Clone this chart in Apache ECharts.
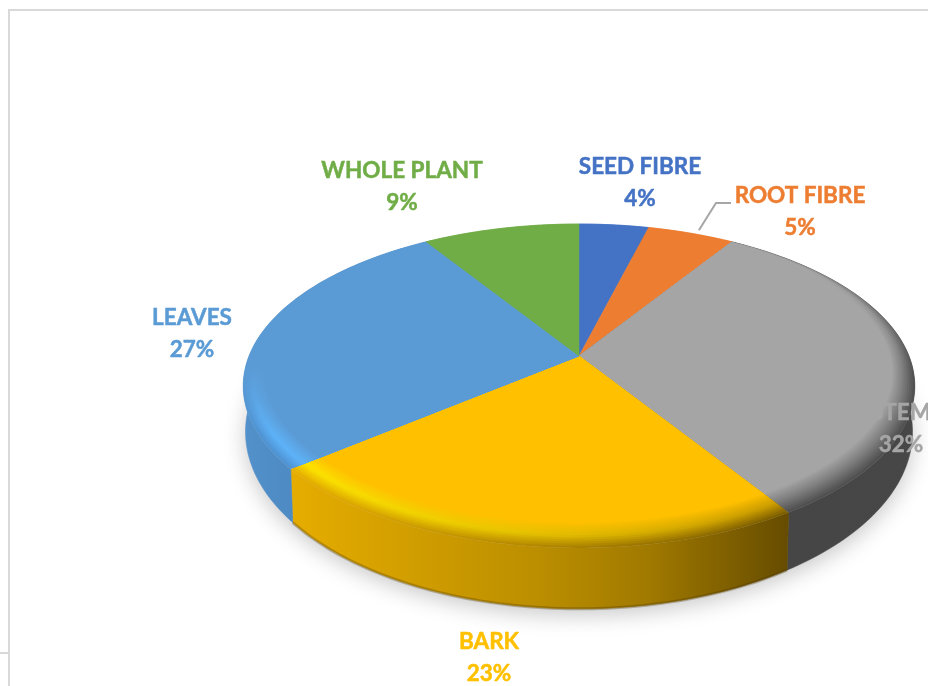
<!DOCTYPE html>
<html>
<head>
<meta charset="utf-8">
<style>html,body{margin:0;padding:0;background:#fff}#chart{width:928px;height:686px}</style>
<script src="https://cdn.jsdelivr.net/npm/echarts@6/dist/echarts.min.js"></script>
</head>
<body>
<div id="chart"></div>
<script>
// Fibre source shares, clockwise from twelve o'clock
const categories = ['SEED FIBRE', 'ROOT FIBRE', 'STEM', 'BARK', 'LEAVES', 'WHOLE PLANT'];
const shares = [4, 5, 32, 23, 27, 9];
const colors = ['#4472C4', '#ED7D31', '#A5A5A5', '#FFC000', '#5B9BD5', '#70AD47'];

// Label anchors, in page pixels
const labelPos = [[640, 183], [800, 212], [901, 429], [489, 658], [192, 334], [402, 187]];

// Perspective disc: rim of the top face and rim of the base
const topRim = { cx: 579, cy: 356, a: 330, b: 156.4, k: 0.185 };
const baseRim = { cx: 579, cy: 399, a: 327.7, b: 171, k: 0.185 };
const bevelDepth = 0.055;
const bevelSteps = 12;

// Outer-to-inner bevel ramps: [t, colour at gradient start, colour at gradient end].
// Bark is lit along x; leaves and stem shade along y, between the span fractions of their rim.
const bevelRamps = {
  3: { axis: 'x', stops: [[0, '#e8b000', '#7c5e00'], [0.45, '#ffe600', '#c89800'], [1, '#FFC000', '#FFC000']] },
  4: { axis: 'y', span: [0.55, 0.85], stops: [[0, '#5B9BD5', '#4f93d2'], [0.4, '#5B9BD5', '#5db2f8'], [1, '#5B9BD5', '#5B9BD5']] },
  2: { axis: 'y', span: [0.1, 0.5], stops: [[0, '#8a8a8a', '#505050'], [0.5, '#A5A5A5', '#7e7e7e'], [1, '#A5A5A5', '#A5A5A5']] }
};
// Wall shading for the slices facing the viewer
const wallStops = {
  2: [[0, '#454545'], [1, '#474747']],
  3: [[0, '#e6ad00'], [0.5, '#bb8e00'], [0.72, '#a07900'], [1, '#664c00']],
  4: [[0, '#5291cb'], [0.5, '#4a84bc'], [1, '#4e8cc5']]
};

const total = shares.reduce((s, v) => s + v, 0);
const startAngles = [];
shares.reduce((acc, v, i) => { startAngles[i] = acc / total * Math.PI * 2; return acc + v; }, 0);

function project(rim, u, v) {
  const w = 1 - rim.k * v;
  return [rim.cx + rim.a * u / w, rim.cy + rim.b * v / w];
}
function polar(rim, angle, radius) {
  return project(rim, radius * Math.sin(angle), -radius * Math.cos(angle));
}
// Radius along a ray for a circle of radius r that touches the rim at the back
function bevelRadius(angle, r) {
  const d = (1 - r) * Math.cos(angle);
  return d + Math.sqrt(d * d - (1 - r) * (1 - r) + r * r);
}
function arcAngles(a0, a1) {
  const n = Math.max(4, Math.ceil((a1 - a0) / 0.02));
  const out = [];
  for (let i = 0; i <= n; i++) out.push(a0 + (a1 - a0) * i / n);
  return out;
}
function hex(c) { return [1, 3, 5].map(i => parseInt(c.substr(i, 2), 16)); }
function mix(c0, c1, f) {
  const a = hex(c0), b = hex(c1);
  return 'rgb(' + a.map((x, i) => Math.round(x + (b[i] - x) * f)).join(',') + ')';
}
function rampAt(stops, t, side) {
  for (let i = 1; i < stops.length; i++) {
    if (t <= stops[i][0]) {
      const f = (t - stops[i - 1][0]) / (stops[i][0] - stops[i - 1][0]);
      return mix(stops[i - 1][side], stops[i][side], f);
    }
  }
  return stops[stops.length - 1][side];
}
function sliceRange(idx, value) {
  const a0 = startAngles[idx];
  return [a0, a0 + value / total * Math.PI * 2];
}
function extent(values) {
  return [Math.min.apply(null, values), Math.max.apply(null, values)];
}

function renderWall(params, api) {
  const idx = params.dataIndex;
  const [a0, a1] = sliceRange(idx, api.value(0));
  const angles = arcAngles(a0, a1);
  const upper = angles.map(a => polar(topRim, a, 1));
  const lower = angles.map(a => polar(baseRim, a, 1));
  const pts = upper.concat(lower.slice().reverse());
  const [x0, x1] = extent(pts.map(p => p[0]));
  const stops = (wallStops[idx] || [[0, colors[idx]], [1, colors[idx]]]).map(s => ({ offset: s[0], color: s[1] }));
  const fill = new echarts.graphic.LinearGradient(x0, 0, x1, 0, stops, true);
  const children = [{
    type: 'polygon', silent: true,
    shape: { points: pts },
    style: { fill: fill, stroke: fill, lineWidth: 0.6 }
  }];
  // Bark's lower edge falls off into a darker lip
  if (idx === 3) {
    children.push({
      type: 'polyline', silent: true,
      shape: { points: lower },
      style: { fill: 'none', stroke: 'rgba(70,50,0,0.3)', lineWidth: 3 }
    });
  }
  return { type: 'group', children: children };
}

function renderFace(params, api) {
  const idx = params.dataIndex;
  const [a0, a1] = sliceRange(idx, api.value(0));
  const angles = arcAngles(a0, a1);
  const apex = polar(topRim, 0, 0);
  const ramp = bevelRamps[idx];
  const steps = ramp ? bevelSteps : 0;
  const rimPts = angles.map(a => polar(topRim, a, 1));
  const [x0, x1] = extent(rimPts.map(p => p[0]));
  const [y0, y1] = extent(rimPts.map(p => p[1]));
  const children = [];
  for (let s = 0; s <= steps; s++) {
    const t = steps ? s / steps : 1;
    const r = 1 - bevelDepth * t;
    const pts = [apex].concat(angles.map(a => polar(topRim, a, steps ? bevelRadius(a, r) : 1)));
    let fill = colors[idx];
    if (ramp && t < 1) {
      const c0 = rampAt(ramp.stops, t, 1), c1 = rampAt(ramp.stops, t, 2);
      fill = ramp.axis === 'x'
        ? new echarts.graphic.LinearGradient(x0, 0, x1, 0, [{ offset: 0, color: c0 }, { offset: 1, color: c1 }], true)
        : new echarts.graphic.LinearGradient(0, y0, 0, y1, [
            { offset: 0, color: c0 }, { offset: ramp.span[0], color: c0 },
            { offset: ramp.span[1], color: c1 }, { offset: 1, color: c1 }
          ], true);
    }
    children.push({
      type: 'polygon', silent: true,
      shape: { points: pts },
      style: t === 1 ? { fill: fill, stroke: colors[idx], lineWidth: 0.5 } : { fill: fill }
    });
  }
  return { type: 'group', children: children };
}

function renderLabel(params, api) {
  const idx = params.dataIndex;
  const value = api.value(0);
  const [a0, a1] = sliceRange(idx, value);
  const children = [{
    type: 'text', silent: true,
    style: {
      x: labelPos[idx][0], y: labelPos[idx][1],
      text: categories[idx] + '\n' + value + '%',
      fill: colors[idx],
      stroke: colors[idx],
      lineWidth: 0.5,
      font: 'bold 22.5px Lato',
      lineHeight: 32,
      align: 'center', verticalAlign: 'middle'
    }
  }];
  // The narrow slice's label sits away from it and gets a leader line
  if (idx === 1) {
    const rimPoint = polar(topRim, (a0 + a1) / 2, 1.03);
    const ly = labelPos[idx][1] - 9;
    children.push({
      type: 'polyline', silent: true,
      shape: { points: [[rimPoint[0] + 5, rimPoint[1]], [labelPos[idx][0] - 84, ly], [labelPos[idx][0] - 69, ly]] },
      style: { stroke: '#A6A6A6', lineWidth: 2, fill: 'none' }
    });
  }
  return { type: 'group', children: children };
}

function renderShadow(params, api) {
  const pts = arcAngles(0, Math.PI * 2).map(a => polar(baseRim, a, 1));
  return {
    type: 'polygon', silent: true,
    shape: { points: pts },
    style: { fill: '#dddddd', shadowBlur: 22, shadowOffsetY: 6, shadowColor: 'rgba(0,0,0,0.22)' }
  };
}

const seriesData = shares.map(v => [v]);
const chart = echarts.init(document.getElementById('chart'));
chart.setOption({
  animation: false,
  backgroundColor: '#ffffff',
  graphic: [
    { type: 'line', silent: true, shape: { x1: 9, y1: 10, x2: 9, y2: 686 }, style: { stroke: '#D9D9D9', lineWidth: 2 } },
    { type: 'line', silent: true, shape: { x1: 8, y1: 10, x2: 928, y2: 10 }, style: { stroke: '#D9D9D9', lineWidth: 2 } },
    { type: 'line', silent: true, shape: { x1: 0, y1: 653, x2: 8, y2: 653 }, style: { stroke: '#D9D9D9', lineWidth: 2 } }
  ],
  series: [
    { type: 'custom', coordinateSystem: 'none', z: 1, data: [[total]], renderItem: renderShadow },
    { type: 'custom', coordinateSystem: 'none', z: 2, data: seriesData, renderItem: renderWall },
    { type: 'custom', coordinateSystem: 'none', z: 3, data: seriesData, renderItem: renderFace },
    { type: 'custom', coordinateSystem: 'none', z: 4, data: seriesData, renderItem: renderLabel }
  ]
});
</script>
</body>
</html>
